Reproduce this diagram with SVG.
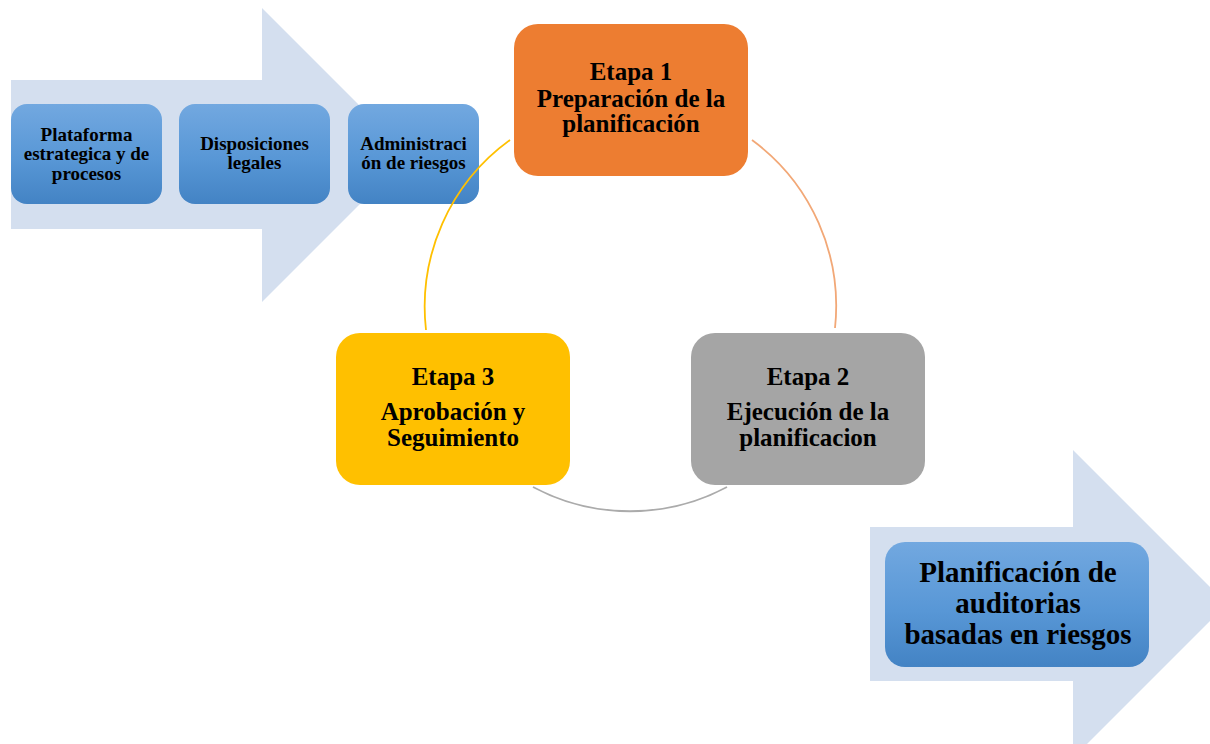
<svg xmlns="http://www.w3.org/2000/svg" width="1210" height="744" viewBox="0 0 1210 744">
  <defs>
    <linearGradient id="blueFill" x1="0" y1="0" x2="0" y2="1">
      <stop offset="0" stop-color="#72A8E0"/>
      <stop offset="0.55" stop-color="#5897D6"/>
      <stop offset="1" stop-color="#4383C4"/>
    </linearGradient>
    <style>
      .band { fill: #D4DFEF; }
      .blue { fill: url(#blueFill); }
      .lbl { font-family: "Liberation Serif", "Times New Roman", serif; font-weight: bold; fill: #000; text-anchor: middle; }
      .sm { font-size: 19px; }
      .md { font-size: 25px; }
      .lg { font-size: 29px; }
      .arc { fill: none; stroke-width: 1.8; }
    </style>
  </defs>

  <rect width="1210" height="744" fill="#ffffff"/>

  <!-- Input band arrow -->
  <polygon id="input-arrow" class="band" points="11,80 262,80 262,8 409,155 262,302 262,229 11,229"/>

  <!-- Output band arrow (runs off the right and bottom edges) -->
  <polygon id="output-arrow" class="band" points="870,527 1073,527 1073,450 1210,587 1210,621 1073,758 1073,681 870,681"/>

  <!-- Inputs -->
  <g id="plataforma">
    <rect class="blue" x="11" y="104" width="151" height="100" rx="16"/>
    <text class="lbl sm" x="86.5" y="141">Plataforma</text>
    <text class="lbl sm" x="86.5" y="160">estrategica y de</text>
    <text class="lbl sm" x="86.5" y="180">procesos</text>
  </g>
  <g id="disposiciones">
    <rect class="blue" x="179" y="104" width="151" height="100" rx="16"/>
    <text class="lbl sm" x="254.5" y="150">Disposiciones</text>
    <text class="lbl sm" x="254.5" y="169">legales</text>
  </g>
  <g id="administracion">
    <rect class="blue" x="348" y="104" width="131" height="100" rx="16"/>
    <text class="lbl sm" x="413.5" y="150">Administraci</text>
    <text class="lbl sm" x="413.5" y="169">ón de riesgos</text>
  </g>

  <!-- Cycle connectors -->
  <g id="connectors">
    <path class="arc" stroke="#F2A877" d="M 752 140 A 206 206 0 0 1 835 328"/>
    <path class="arc" stroke="#ABABAB" d="M 727 487 A 206 206 0 0 1 533 487"/>
    <path class="arc" stroke="#FFC000" d="M 426 330 A 206 206 0 0 1 510 140"/>
  </g>

  <!-- Stages -->
  <g id="etapa1">
    <rect x="514" y="24" width="234" height="152" rx="24" fill="#ED7D31"/>
    <text class="lbl md" x="631" y="80">Etapa 1</text>
    <text class="lbl md" x="631" y="107">Preparación de la</text>
    <text class="lbl md" x="631" y="132">planificación</text>
  </g>
  <g id="etapa2">
    <rect x="691" y="333" width="234" height="152" rx="24" fill="#A5A5A5"/>
    <text class="lbl md" x="808" y="385">Etapa 2</text>
    <text class="lbl md" x="808" y="420">Ejecución de la</text>
    <text class="lbl md" x="808" y="446">planificacion</text>
  </g>
  <g id="etapa3">
    <rect x="336" y="333" width="234" height="152" rx="24" fill="#FFC000"/>
    <text class="lbl md" x="453" y="385">Etapa 3</text>
    <text class="lbl md" x="453" y="420">Aprobación y</text>
    <text class="lbl md" x="453" y="446">Seguimiento</text>
  </g>

  <!-- Output -->
  <g id="resultado">
    <rect class="blue" x="885" y="542" width="264" height="125" rx="20"/>
    <text class="lbl lg" x="1018" y="582">Planificación de</text>
    <text class="lbl lg" x="1018" y="613">auditorias</text>
    <text class="lbl lg" x="1018" y="644">basadas en riesgos</text>
  </g>
</svg>
